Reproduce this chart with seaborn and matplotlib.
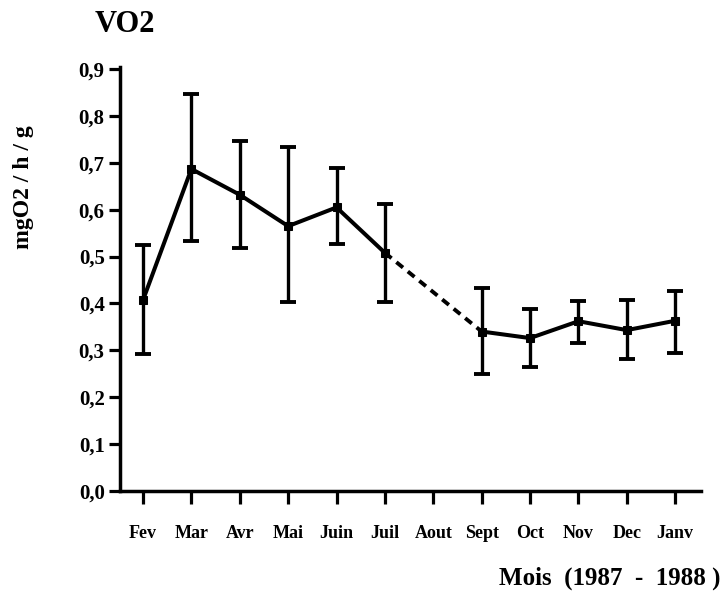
import numpy as np
import pandas as pd
import matplotlib
matplotlib.use("Agg")
import matplotlib.pyplot as plt
import seaborn as sns

# Monthly oxygen consumption (mgO2/h/g), Feb 1987 - Jan 1988
months = ["Fev", "Mar", "Avr", "Mai", "Juin", "Juil", "Aout",
          "Sept", "Oct", "Nov", "Dec", "Janv"]
measured = ["Fev", "Mar", "Avr", "Mai", "Juin", "Juil",
            "Sept", "Oct", "Nov", "Dec", "Janv"]
vo2 = [0.407, 0.687, 0.632, 0.565, 0.605, 0.508,
       0.340, 0.326, 0.362, 0.343, 0.363]
err_low = [0.293, 0.533, 0.518, 0.402, 0.527, 0.403,
           0.250, 0.264, 0.316, 0.281, 0.295]
err_high = [0.525, 0.847, 0.747, 0.733, 0.690, 0.612,
            0.432, 0.389, 0.405, 0.407, 0.427]
# sampling runs separated by the missing August value
segment = [1, 1, 1, 1, 1, 1, 2, 2, 2, 2, 2]

df = pd.DataFrame({
    "mois": measured,
    "pos": [months.index(m) for m in measured],
    "vo2": vo2,
    "low": err_low,
    "high": err_high,
    "seg": segment,
})

sns.set_theme(style="ticks")
plt.rcParams["font.family"] = ["Liberation Serif", "DejaVu Serif"]
plt.rcParams["font.weight"] = "bold"
for key in ["text.color", "axes.labelcolor", "xtick.color", "ytick.color",
            "axes.edgecolor"]:
    plt.rcParams[key] = "black"

fig = plt.figure(figsize=(7.23, 5.92), dpi=100)
ax = fig.add_axes([0.166, 0.171, 0.804, 0.716])

# error bars
ax.errorbar(df["pos"], df["vo2"],
            yerr=[df["vo2"] - df["low"], df["high"] - df["vo2"]],
            fmt="none", ecolor="black", elinewidth=2.4,
            capsize=5.5, capthick=2.8, zorder=2)

# solid lines within each run
sns.lineplot(data=df, x="pos", y="vo2", units="seg", estimator=None,
             color="black", linewidth=2.9, marker="s", markersize=6,
             markeredgecolor="black", ax=ax, zorder=3, legend=False)

# dashed bridge across the missing month
i_juil, i_sept = measured.index("Juil"), measured.index("Sept")
ax.plot([df["pos"][i_juil], df["pos"][i_sept]],
        [vo2[i_juil], vo2[i_sept]],
        color="black", linewidth=2.8, linestyle=(0, (2.2, 1.6)), zorder=3)

ax.set_xlim(-0.475, 11.54)
ax.set_ylim(0, 0.905)
ax.set_xticks(range(len(months)))
ax.set_xticklabels(months)
yt = np.round(np.arange(0, 0.91, 0.1), 1)
ax.set_yticks(yt)
ax.set_yticklabels([f"{v:.1f}".replace(".", ",") for v in yt])

for s in ["top", "right"]:
    ax.spines[s].set_visible(False)
for s in ["left", "bottom"]:
    ax.spines[s].set_linewidth(2.5)
    ax.spines[s].set_color("black")

ax.tick_params(axis="y", length=8, width=2.3, labelsize=15, pad=3)
ax.tick_params(axis="x", length=9, width=2.3, labelsize=13, pad=16)
for lab in ax.get_xticklabels() + ax.get_yticklabels():
    lab.set_fontweight("bold")

ax.set_xlabel("")
ax.set_ylabel("")

fig.text(95 / 723, 1 - 25 / 592, "VO2", fontsize=22, fontweight="bold",
         ha="left", va="center")
fig.text(23 / 723, 1 - 187 / 592, "mgO2 / h / g", fontsize=17,
         fontweight="bold", rotation=90, ha="center", va="center")
fig.text(0.996, 1 - 578 / 592, "Mois  (1987  -  1988 )", fontsize=18,
         fontweight="bold", ha="right", va="center")

fig.savefig("out.png", dpi=100, facecolor="white")
